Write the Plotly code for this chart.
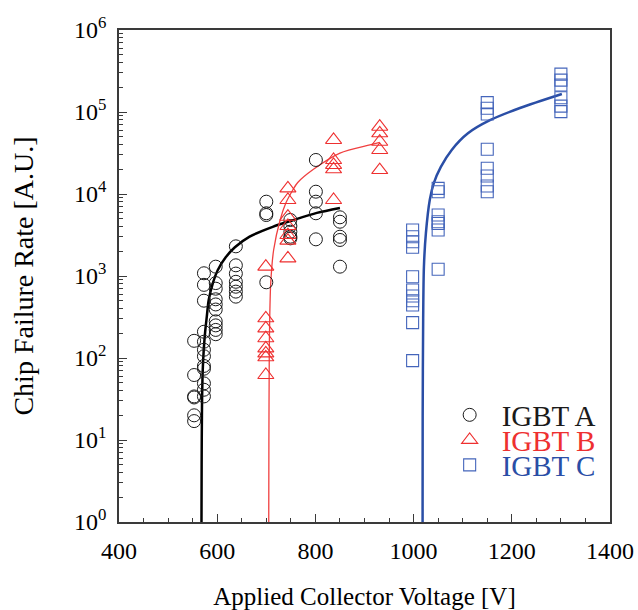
import plotly.graph_objects as go

# ---------------- data ----------------
# IGBT A (circles)
a_v = [553]*6 + [573]*12 + [597]*10 + [638]*7 + [700]*4 + [749]*5 + [801]*5 + [850]*5
a_y = [162, 62, 34, 33, 20, 17,
       1080, 780, 500, 209, 158, 126, 105, 80, 74, 49, 41, 34,
       1300, 820, 700, 520, 450, 390, 280, 250, 220, 195,
       2300, 1350, 1070, 850, 740, 645, 560,
       8060, 5820, 5540, 838,
       4820, 4070, 3470, 3015, 2880,
       26000, 10670, 8060, 5820, 2800,
       5200, 4590, 3015, 2750, 1300]

# IGBT B (triangles)
b_v = [699]*8 + [744]*7 + [837]*5 + [931]*5
b_y = [1300, 305, 230, 174, 131, 114, 102, 62,
       11700, 8450, 5290, 4070, 3160, 2700, 1640,
       45600, 26000, 22600, 20000, 8450,
       66200, 55000, 43400, 34400, 19600]

# IGBT C (squares)
c_v = [998]*11 + [1050]*7 + [1150]*8 + [1300]*6
c_y = [3640, 3015, 2620, 2240, 980, 675, 570, 500, 443, 270, 93,
       11700, 10670, 5540, 4590, 4370, 3640, 1210,
       130000, 111000, 94600, 35100, 20600, 16600, 12500, 10670,
       290000, 245000, 213000, 149000, 118000, 101000]

# fitted curves
fa_v = [568, 568.3, 569, 570.5, 572.6, 575.5, 578.7, 582.8, 591, 601, 617.7, 636, 666, 713, 754, 803, 850]
fa_y = [1, 5, 25, 70, 126, 210, 316, 513, 813, 1175, 1700, 2240, 3020, 3980, 4790, 5890, 6760]

fb_v = [705, 705.3, 706, 707, 709, 715, 728, 740, 754, 764, 796, 850, 911, 931]
fb_y = [1, 10, 100, 316, 813, 2090, 4790, 7800, 11200, 13800, 20000, 31600, 39800, 42700]

fc_v = [1018.3, 1018.5, 1019.5, 1021, 1025, 1033, 1041, 1055.5, 1078, 1110.7, 1155.5, 1216.6, 1302]
fc_y = [1, 20, 300, 1290, 3310, 8510, 13500, 21400, 34700, 55000, 79400, 112000, 166000]

x_ticks = [400, 600, 800, 1000, 1200, 1400]
y_ticks = [1, 10, 100, 1000, 10000, 100000, 1000000]
y_ticktext = ["10<sup>0</sup>", "10<sup>1</sup>", "10<sup>2</sup>", "10<sup>3</sup>",
              "10<sup>4</sup>", "10<sup>5</sup>", "10<sup>6</sup>"]

names = ["IGBT A", "IGBT B", "IGBT C"]

# ---------------- style ----------------
FONT = "Liberation Serif"
BLACK = "#1a1a1a"
RED_M = "#ee3030"
RED_L = "#f04040"
BLUE_M = "#4465bb"
BLUE_L = "#2a4ea6"

fig = go.Figure()

fig.add_trace(go.Scatter(x=fa_v, y=fa_y, mode="lines",
                         line=dict(color="black", width=2.5, shape="spline", smoothing=0.8),
                         showlegend=False, hoverinfo="skip"))
fig.add_trace(go.Scatter(x=fb_v, y=fb_y, mode="lines",
                         line=dict(color=RED_L, width=1.3, shape="spline", smoothing=0.8),
                         showlegend=False, hoverinfo="skip"))
fig.add_trace(go.Scatter(x=fc_v, y=fc_y, mode="lines",
                         line=dict(color=BLUE_L, width=2.5, shape="spline", smoothing=0.8),
                         showlegend=False, hoverinfo="skip"))

fig.add_trace(go.Scatter(x=a_v, y=a_y, mode="markers", name=names[0],
                         marker=dict(symbol="circle-open", size=13, color=BLACK, line=dict(width=1)),
                         legend="legend"))
fig.add_trace(go.Scatter(x=b_v, y=b_y, mode="markers", name=names[1],
                         marker=dict(symbol="triangle-up-open", size=14, color=RED_M, line=dict(width=1.1)),
                         legend="legend2"))
fig.add_trace(go.Scatter(x=c_v, y=c_y, mode="markers", name=names[2],
                         marker=dict(symbol="square-open", size=12, color=BLUE_M, line=dict(width=1.1)),
                         legend="legend3"))

axis_common = dict(showgrid=False, zeroline=False, showline=True, linecolor="#3a3a3a", linewidth=1.5,
                   mirror=True, ticks="inside", ticklen=8, tickwidth=1, tickcolor="#3a3a3a",
                   automargin=False,
                   tickfont=dict(family=FONT, size=24, color="black"))


def leg(y, color):
    return dict(x=0.649, y=y, xanchor="left", yanchor="middle", bgcolor="rgba(0,0,0,0)",
                font=dict(family=FONT, size=29, color=color), itemwidth=54,
                xref="paper", yref="paper")

fig.update_layout(
    width=638, height=610, autosize=False,
    margin=dict(l=119, r=28, t=30, b=88),
    paper_bgcolor="white", plot_bgcolor="white",
    font=dict(family=FONT, color="black"),
    xaxis=dict(range=[400, 1400], tickvals=x_ticks, **axis_common, ticklabelstandoff=6,
               minor=dict(ticks="inside", ticklen=4, dtick=50, tick0=400, tickcolor="#3a3a3a", showgrid=False),
               title=dict(text="Applied Collector Voltage [V]", font=dict(family=FONT, size=25), standoff=28)),
    yaxis=dict(type="log", range=[0, 6], tickvals=y_ticks, ticktext=y_ticktext, **axis_common,
               ticklabelstandoff=6,
               minor=dict(ticks="inside", ticklen=4, dtick="D1", tickcolor="#3a3a3a", showgrid=False),
               title=dict(text="Chip Failure Rate [A.U.]", font=dict(family=FONT, size=28), standoff=32)),
    legend=leg((522 - 415) / 492, BLACK),
    legend2=leg((522 - 440) / 492, RED_M),
    legend3=leg((522 - 465) / 492, BLUE_L),
)

fig.write_html("out.html")
